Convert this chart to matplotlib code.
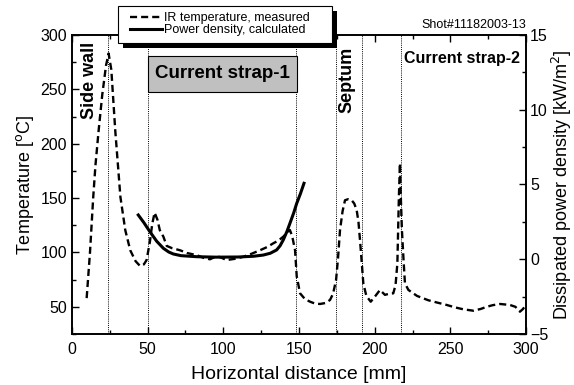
import matplotlib
matplotlib.use('Agg')
import matplotlib.pyplot as plt
from matplotlib.patches import Rectangle
from matplotlib.ticker import MultipleLocator

plt.rcParams['font.family'] = ['Liberation Sans', 'DejaVu Sans']

# IR temperature, measured (left axis, degC)
ir_x = [9.7, 11.9, 14, 15.5, 17.6, 20, 22.5, 24.2, 26, 28.6, 32, 35.2, 38.5, 42, 45,
        47.5, 49.3, 51.5, 53, 54.6, 56.5, 58, 60.4, 62.6, 66, 71.4, 76, 82.4, 87,
        91.2, 95.6, 99, 102, 107, 113.2, 119, 124.2, 129, 133, 136.5, 139.6, 142, 144,
        145.5, 147.4, 148.5, 150.7, 154, 157.3, 160.5, 163.9, 167.5, 170.5, 172.5, 174.5,
        175.8, 177.1, 178.8, 180.4, 182.5, 184.8, 186.5, 188.1, 189.3, 190.3, 191.5, 192.5,
        194.5, 197.4, 200.5, 203.5, 206.8, 209.5, 212.3, 213.8, 215, 216, 216.7, 217.3, 218,
        219, 220, 222.3, 228, 235.5, 241, 247.6, 253, 258.6, 265.2, 270, 274, 278, 282.8,
        289.4, 293, 296, 298, 300]
ir_t = [58, 100, 150, 180, 212, 245, 272, 283, 268, 212, 151, 120.6, 102, 92, 87.5,
        89, 93, 110, 126, 136.6, 130, 120.6, 114.5, 106, 104, 102, 99.5, 97.5, 95,
        93.7, 96.7, 95, 93, 94, 96, 99, 102, 105, 108.4, 111, 114.5, 118, 120.6,
        115, 102, 78, 62.4, 57, 54.7, 53, 52.6, 53.5, 56.3, 62, 74.7,
        95, 120.6, 138, 148, 149, 148, 145, 139, 128, 111.5, 90, 71.6,
        60, 54.7, 60, 65.5, 61, 62, 62.4, 70, 90, 151, 182, 150, 120.6,
        95, 71.6, 65.5, 60, 56, 54, 51.7, 49.5, 47.7, 46.4, 48, 50, 51.5, 52.6,
        51.7, 50, 45.5, 48, 52]

# Power density, calculated (right axis, kW/m^2)
pd_x = [43.8, 47.5, 51.5, 56, 60.4, 64, 67, 72, 82.4, 95, 110, 120, 126.4, 131, 135.2,
        137.5, 139.6, 142, 144, 146.5, 148.5, 151, 153.3]
pd_y = [2.96, 2.45, 1.84, 1.2, 0.73, 0.48, 0.35, 0.24, 0.17, 0.14, 0.15, 0.2, 0.28, 0.4, 0.62,
        0.9, 1.29, 1.85, 2.4, 3.1, 3.74, 4.4, 5.08]

# component boundaries [mm]
bounds = [24, 50, 148, 174.2, 191.4, 217.2]

W, H = 574, 385
fig = plt.figure(figsize=(W / 100, H / 100), dpi=100)
ax = fig.add_axes([0.1254, 0.1325, 0.7910, 0.7766])
ax2 = ax.twinx()

for b in bounds:
    ax.axvline(b, color='k', lw=0.7, ls=(0, (1, 1.2)), zorder=1)

l1, = ax.plot(ir_x, ir_t, color='k', lw=1.7, ls=(0, (3, 1.7)), zorder=3)
l2, = ax2.plot(pd_x, pd_y, color='k', lw=2.2, zorder=3)

ax.set_xlim(0, 300)
ax.set_ylim(25, 300)
ax2.set_ylim(-5, 15)

ax.xaxis.set_major_locator(MultipleLocator(50))
ax.xaxis.set_minor_locator(MultipleLocator(25))
ax.yaxis.set_major_locator(MultipleLocator(50))
ax.yaxis.set_minor_locator(MultipleLocator(25))
ax2.yaxis.set_major_locator(MultipleLocator(5))
ax2.yaxis.set_minor_locator(MultipleLocator(2.5))

ax.tick_params(which='both', direction='in', top=True, right=False, labelsize=11.5, width=1)
ax.tick_params(which='major', length=5)
ax.tick_params(which='minor', length=3)
ax.tick_params(axis='x', pad=5.5)
ax2.tick_params(which='both', direction='in', labelsize=11.5, width=1, pad=3)
ax2.tick_params(which='major', length=5)
ax2.tick_params(which='minor', length=3)
for a in (ax, ax2):
    for s in a.spines.values():
        s.set_linewidth(1.2)

ax.set_xlabel('Horizontal distance [mm]', fontsize=14, labelpad=7)
ax.set_ylabel(r'Temperature [$^{\mathrm{o}}$C]', fontsize=13, labelpad=3)
ax2.set_ylabel(r'Dissipated power density [kW/m$^{\mathrm{2}}$]', fontsize=13, labelpad=1)

# annotations
ax.add_patch(Rectangle((50, 248), 99, 33, facecolor='#c0c0c0', edgecolor='k', lw=0.8, zorder=2))
ax.text(99.5, 264.5, 'Current strap-1', ha='center', va='center', fontsize=13.5, fontweight='bold', zorder=4)
ax.text(219.5, 278, 'Current strap-2', ha='left', va='center', fontsize=11.5, fontweight='bold')
ax.text(11.5, 258, 'Side wall', rotation=90, ha='center', va='center', fontsize=13, fontweight='bold')
ax.text(181.4, 259, 'Septum', rotation=90, ha='center', va='center', fontsize=13, fontweight='bold')
ax.text(1.0, 1.012, 'Shot#11182003-13', transform=ax.transAxes, ha='right', va='bottom', fontsize=9)

# legend box with black drop shadow (Origin style)
fig.add_artist(Rectangle((123.3 / W, 1 - 48 / H), 213.4 / W, 37 / H, transform=fig.transFigure,
                         facecolor='k', edgecolor='k', lw=0, zorder=3))
fig.add_artist(Rectangle((118.3 / W, 1 - 43 / H), 213.4 / W, 37 / H, transform=fig.transFigure,
                         facecolor='white', edgecolor='k', lw=0.8, zorder=4))
leg = fig.legend([l1, l2], ['IR temperature, measured', 'Power density, calculated'],
                 loc='upper left', bbox_to_anchor=(130 / W, 1 - 12.5 / H), borderaxespad=0,
                 fontsize=9, frameon=False, handlelength=2.55,
                 handletextpad=0.15, borderpad=0, labelspacing=-0.05)
leg.set_zorder(5)

fig.savefig('out.png', dpi=100)
